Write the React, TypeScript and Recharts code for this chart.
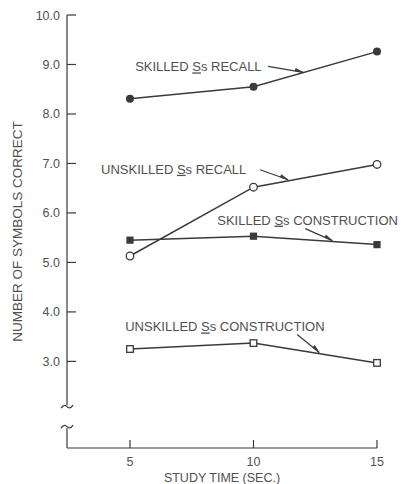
import { LineChart, Line, XAxis, YAxis, ReferenceLine, ReferenceDot } from "recharts";

// study time in seconds
const studyTime = [5, 10, 15];

// mean number of symbols correct
const skilledRecall = [8.31, 8.55, 9.26];
const unskilledRecall = [5.13, 6.52, 6.98];
const skilledConstruction = [5.45, 5.53, 5.36];
const unskilledConstruction = [3.25, 3.37, 2.97];

const xTicks = [5, 10, 15];
const yTicks = [3, 4, 5, 6, 7, 8, 9, 10];

const X_MIN = 2.45;
const Y_MIN = 1.25;
const Y_MAX = 10;

// where the y axis is broken
const axisBreaks = [2.086, 1.682];

const INK = "#3a3a3a";
const TEXT = "#505050";
const FONT = "'Liberation Sans', Arial, sans-serif";

const data = studyTime.map((t, i) => ({
  t,
  skilledRecall: skilledRecall[i],
  unskilledRecall: unskilledRecall[i],
  skilledConstruction: skilledConstruction[i],
  unskilledConstruction: unskilledConstruction[i],
}));

// series labels: arrow tip sits on the line, text and tail are pixel offsets from it
const notes = [
  { pre: "SKILLED ", post: "s RECALL", at: [12.01, 8.84], text: [-168, -1], tail: [-35, -6] },
  { pre: "UNSKILLED ", post: "s RECALL", at: [11.4, 6.67], text: [-187, -6], tail: [-28, -10] },
  { pre: "SKILLED ", post: "s CONSTRUCTION", at: [13.19, 5.44], text: [-115, -16], tail: [-27, -12] },
  { pre: "UNSKILLED ", post: "s CONSTRUCTION", at: [12.66, 3.18], text: [-194, -21], tail: [-22, -18] },
];

function Note({ cx, cy, note }: any) {
  const [tx, ty] = note.tail;
  const len = Math.hypot(tx, ty);
  const ux = -tx / len;
  const uy = -ty / len;
  const bx = cx - ux * 8;
  const by = cy - uy * 8;
  const px = uy * 2.6;
  const py = -ux * 2.6;
  return (
    <g>
      <line x1={cx + tx} y1={cy + ty} x2={cx} y2={cy} stroke={INK} strokeWidth={1.2} />
      <polygon points={`${cx},${cy} ${bx + px},${by + py} ${bx},${by}`} fill={INK} stroke={INK} strokeWidth={0.8} />
      <text x={cx + note.text[0]} y={cy + note.text[1]} fill={TEXT} fontFamily={FONT} fontSize={13}>
        {note.pre}
        <tspan style={{ textDecoration: "underline" }}>S</tspan>
        {note.post}
      </text>
    </g>
  );
}

function Squiggle({ cx, cy }: any) {
  return (
    <path
      d={`M ${cx - 6} ${cy + 1.5} C ${cx - 3} ${cy - 3} ${cx - 1} ${cy - 1} ${cx} ${cy} S ${cx + 3} ${cy + 3} ${cx + 6} ${cy - 1.5}`}
      fill="none"
      stroke={INK}
      strokeWidth={1.3}
    />
  );
}

function YTick({ x, y, payload }: any) {
  return (
    <g>
      <line x1={x + 7} y1={y} x2={x + 16} y2={y} stroke={INK} strokeWidth={1.2} />
      <text x={x} y={y} dy={4.5} textAnchor="end" fill={TEXT} fontFamily={FONT} fontSize={12.5}>
        {payload.value.toFixed(1)}
      </text>
    </g>
  );
}

function XTick({ x, y, payload }: any) {
  return (
    <g>
      <line x1={x} y1={y} x2={x} y2={y - 8} stroke={INK} strokeWidth={1.2} />
      <text x={x} y={y} dy={18} textAnchor="middle" fill={TEXT} fontFamily={FONT} fontSize={12.5}>
        {payload.value}
      </text>
    </g>
  );
}

function YTitle({ viewBox }: any) {
  const x = viewBox.x + 17.5;
  const y = viewBox.y + viewBox.height / 2;
  return (
    <text
      x={x}
      y={y}
      transform={`rotate(-90 ${x} ${y})`}
      textAnchor="middle"
      dominantBaseline="central"
      fill={TEXT}
      fontFamily={FONT}
      fontSize={13.5}
    >
      NUMBER OF SYMBOLS CORRECT
    </text>
  );
}

function XTitle({ viewBox }: any) {
  return (
    <text
      x={viewBox.x + viewBox.width / 2}
      y={viewBox.y + viewBox.height - 2}
      textAnchor="middle"
      fill={TEXT}
      fontFamily={FONT}
      fontSize={12.5}
    >
      STUDY TIME (SEC.)
    </text>
  );
}

const dotFilledCircle = (p: any) => <circle key={`fc${p.index}`} cx={p.cx} cy={p.cy} r={4} fill={INK} />;
const dotOpenCircle = (p: any) => (
  <circle key={`oc${p.index}`} cx={p.cx} cy={p.cy} r={3.8} fill="#fff" stroke={INK} strokeWidth={1.3} />
);
const dotFilledSquare = (p: any) => (
  <rect key={`fs${p.index}`} x={p.cx - 3.6} y={p.cy - 3.6} width={7.2} height={7.2} fill={INK} />
);
const dotOpenSquare = (p: any) => (
  <rect key={`os${p.index}`} x={p.cx - 3.3} y={p.cy - 3.3} width={6.6} height={6.6} fill="#fff" stroke={INK} strokeWidth={1.3} />
);

export default function App() {
  return (
    <div style={{ position: "absolute", left: 0, top: 0, background: "#fff" }}>
      <LineChart width={403} height={484} data={data} margin={{ top: 15, right: 26, left: 0, bottom: 0 }}>
        <XAxis
          type="number"
          dataKey="t"
          domain={[X_MIN, 15]}
          ticks={xTicks}
          height={36}
          axisLine={{ stroke: INK, strokeWidth: 1.2 }}
          tickLine={false}
          tickSize={0}
          tickMargin={0}
          tick={<XTick />}
          label={{ content: <XTitle /> }}
        />
        <YAxis
          type="number"
          domain={[Y_MIN, Y_MAX]}
          ticks={yTicks}
          width={67}
          axisLine={false}
          tickLine={false}
          tickSize={0}
          tickMargin={7}
          tick={<YTick />}
          label={{ content: <YTitle /> }}
        />
        <ReferenceLine
          segment={[{ x: X_MIN, y: Y_MAX }, { x: X_MIN, y: axisBreaks[0] + 0.03 }]}
          stroke={INK}
          strokeWidth={1.2}
          ifOverflow="visible"
        />
        <ReferenceLine
          segment={[{ x: X_MIN, y: axisBreaks[1] - 0.03 }, { x: X_MIN, y: Y_MIN }]}
          stroke={INK}
          strokeWidth={1.2}
          ifOverflow="visible"
        />
        {axisBreaks.map((b, i) => (
          <ReferenceDot key={`br${i}`} x={X_MIN} y={b} ifOverflow="visible" shape={(p: any) => <Squiggle {...p} />} />
        ))}
        <Line dataKey="skilledRecall" stroke={INK} strokeWidth={1.5} dot={dotFilledCircle} activeDot={false} isAnimationActive={false} />
        <Line dataKey="skilledConstruction" stroke={INK} strokeWidth={1.5} dot={dotFilledSquare} activeDot={false} isAnimationActive={false} />
        <Line dataKey="unskilledRecall" stroke={INK} strokeWidth={1.5} dot={dotOpenCircle} activeDot={false} isAnimationActive={false} />
        <Line dataKey="unskilledConstruction" stroke={INK} strokeWidth={1.5} dot={dotOpenSquare} activeDot={false} isAnimationActive={false} />
        {notes.map((n, i) => (
          <ReferenceDot key={`n${i}`} x={n.at[0]} y={n.at[1]} ifOverflow="visible" shape={(p: any) => <Note {...p} note={n} />} />
        ))}
      </LineChart>
    </div>
  );
}
